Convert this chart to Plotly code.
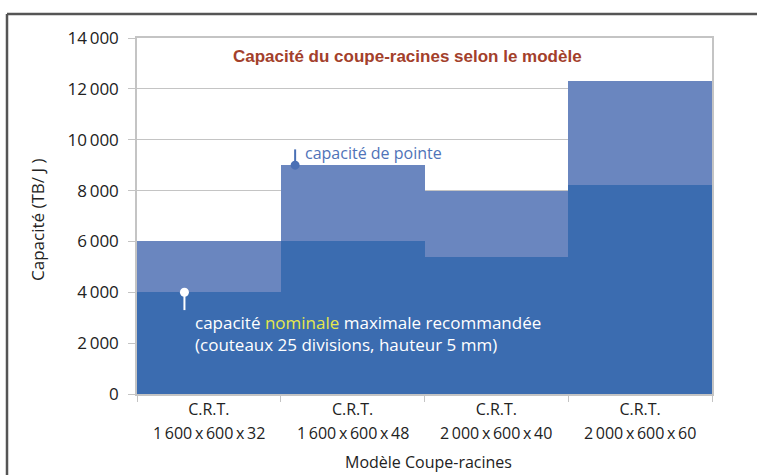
import plotly.graph_objects as go

categories = ["1600x600x32", "1600x600x48", "2000x600x40", "2000x600x60"]
tick_line1 = ["C.R.T.", "C.R.T.", "C.R.T.", "C.R.T."]
tick_line2 = ["1\u2009600\u2009x\u2009600\u2009x\u200932",
              "1\u2009600\u2009x\u2009600\u2009x\u200948",
              "2\u2009000\u2009x\u2009600\u2009x\u200940",
              "2\u2009000\u2009x\u2009600\u2009x\u200960"]
peak = [6000, 9000, 8000, 12300]
nominal = [4000, 6000, 5400, 8200]
y_ticks = [0, 2000, 4000, 6000, 8000, 10000, 12000, 14000]
y_ticklabels = ["0", "2\u2009000", "4\u2009000", "6\u2009000", "8\u2009000",
                "10\u2009000", "12\u2009000", "14\u2009000"]

LIGHT = "#6a86bf"
DARK = "#3b6cb0"
GRID = "#c4c4c4"
FONT = "Open Sans"
TXT = "#222"

fig = go.Figure()
fig.add_trace(go.Bar(x=categories, y=peak, marker=dict(color=LIGHT, line=dict(width=0)),
                     name="capacité de pointe"))
fig.add_trace(go.Bar(x=categories, y=nominal, marker=dict(color=DARK, line=dict(width=0)),
                     name="capacité nominale"))

W, H = 757, 475
L, R, T, B = 137, 45, 38, 81
pw, ph = W - L - R, H - T - B

fig.update_layout(
    width=W, height=H,
    margin=dict(l=L, r=R, t=T, b=B, autoexpand=False),
    barmode="overlay", bargap=0,
    showlegend=False,
    plot_bgcolor="white", paper_bgcolor="white",
    font=dict(family=FONT, size=16, color=TXT),
)
fig.update_xaxes(
    type="category", showgrid=False,
    showline=True, linecolor=GRID, linewidth=1.5, mirror=True,
    ticks="outside", tickson="boundaries", ticklen=6, tickcolor=GRID,
    tickvals=categories, ticktext=tick_line1,
    tickfont=dict(family=FONT, size=16, color=TXT),
)
fig.update_yaxes(
    range=[0, 14000], tickvals=y_ticks, ticktext=y_ticklabels,
    showgrid=True, gridcolor=GRID, gridwidth=1.2,
    showline=True, linecolor=GRID, linewidth=1.5, mirror=True,
    ticks="outside", ticklen=7, tickcolor=GRID,
    ticklabelstandoff=6,
    tickfont=dict(family=FONT, size=17, color=TXT),
    zeroline=False,
)

# second line of x tick labels
for c, t2 in zip(categories, tick_line2):
    fig.add_annotation(text=t2, xref="x", yref="paper", x=c, y=-(433 - (H - B)) / ph,
                       showarrow=False, xanchor="center", yanchor="middle",
                       font=dict(family=FONT, size=16, color=TXT))

# axis titles
fig.add_annotation(text="Modèle Coupe-racines", xref="paper", yref="paper",
                   x=(428 - L) / pw, y=-(462 - (H - B)) / ph, showarrow=False,
                   xanchor="center", yanchor="middle", font=dict(family=FONT, size=16, color=TXT))
fig.add_annotation(text="Capacité (TB/ J )", xref="paper", yref="paper",
                   x=(37 - L) / pw, y=(H - B - 220) / ph, showarrow=False, textangle=-90,
                   xanchor="center", yanchor="middle", font=dict(family=FONT, size=17, color=TXT))

# outer frame (top and left edges visible)
fx0 = (7 - L) / pw
fy0 = 1 + (T - 14) / ph
fig.add_shape(type="line", xref="paper", yref="paper", x0=fx0, x1=(W - L) / pw + 0.01,
              y0=fy0, y1=fy0, line=dict(color="#555555", width=2.5))
fig.add_shape(type="line", xref="paper", yref="paper", x0=fx0, x1=fx0,
              y0=fy0, y1=-B / ph - 0.01, line=dict(color="#555555", width=2.5))

# title
fig.add_annotation(text="<b>Capacité du coupe-racines selon le modèle</b>",
                   xref="paper", yref="paper", x=(407 - L) / pw, y=(H - B - 57) / ph,
                   showarrow=False, xanchor="center", yanchor="middle",
                   font=dict(family="Liberation Sans", size=17, color="#a3402b"))

# peak marker (bar 2)
px = 0.6
fig.add_shape(type="line", xref="x", yref="y", x0=px, x1=px, y0=peak[1], y1=peak[1] + 620,
              line=dict(color="#4a70b5", width=2))
fig.add_shape(type="circle", xref="x", yref="y", xsizemode="pixel", ysizemode="pixel",
              xanchor=px, yanchor=peak[1], x0=-4.5, x1=4.5, y0=-4.5, y1=4.5,
              fillcolor="#4a70b5", line=dict(width=0))
fig.add_annotation(text="capacité de pointe", xref="x", yref="y", x=px, y=peak[1],
                   xshift=8, yshift=12, showarrow=False, xanchor="left", yanchor="middle",
                   font=dict(family=FONT, size=16, color="#4f73b8"))

# nominal marker (bar 1)
nx = -0.17
fig.add_shape(type="line", xref="x", yref="y", x0=nx, x1=nx, y0=nominal[0], y1=nominal[0] - 700,
              line=dict(color="white", width=2))
fig.add_shape(type="circle", xref="x", yref="y", xsizemode="pixel", ysizemode="pixel",
              xanchor=nx, yanchor=nominal[0], x0=-4.5, x1=4.5, y0=-4.5, y1=4.5,
              fillcolor="white", line=dict(width=0))
fig.add_annotation(
    text='capacité <span style="color:#e6e84a">nominale</span> maximale recommandée<br>'
         '(couteaux 25 divisions, hauteur 5 mm)',
    xref="x", yref="y", x=nx, y=nominal[0], xshift=9, yshift=-41,
    showarrow=False, xanchor="left", yanchor="middle", align="left",
    font=dict(family=FONT, size=17, color="white"))

fig.write_html("out.html", config={"displayModeBar": False},
               post_script="document.body.style.margin='0';")
